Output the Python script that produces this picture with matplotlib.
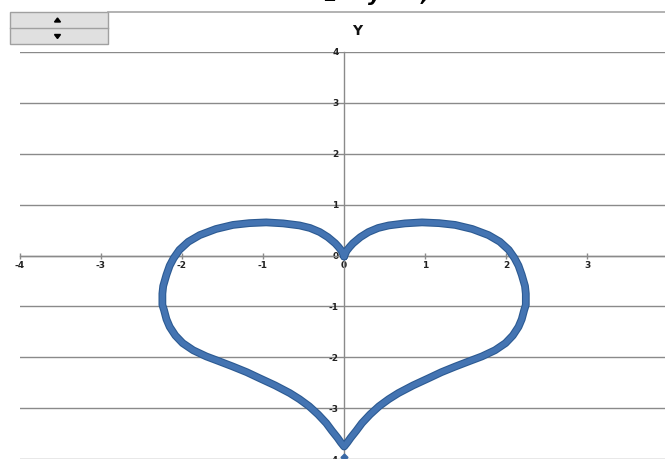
import matplotlib
matplotlib.use("Agg")
import matplotlib.pyplot as plt
import matplotlib.patheffects as pe
from matplotlib.patches import Rectangle, Polygon

# ---- data (full closed loop, starting at the top cusp) ----
heart_x = [0.00, 0.03, 0.07, 0.11, 0.20, 0.30, 0.42, 0.55, 0.75, 0.96, 1.17, 1.37, 1.58,
           1.78, 1.92, 2.03, 2.10, 2.15, 2.19, 2.23, 2.24, 2.24, 2.24, 2.22, 2.19, 2.15,
           2.08, 1.99, 1.86, 1.70, 1.55, 1.37, 1.20, 1.04, 0.85, 0.67, 0.55, 0.43, 0.32,
           0.22, 0.15, 0.08, 0.04, 0.00,
           -0.04, -0.08, -0.15, -0.22, -0.32, -0.43, -0.55, -0.67, -0.85, -1.04,
           -1.20, -1.37, -1.55, -1.70, -1.86, -1.99, -2.08, -2.15, -2.19, -2.22,
           -2.24, -2.24, -2.24, -2.23, -2.19, -2.15, -2.10, -2.03, -1.92, -1.78,
           -1.58, -1.37, -1.17, -0.96, -0.75, -0.55, -0.42, -0.30, -0.20, -0.11,
           -0.07, -0.03, 0.00]
heart_y = [-0.02, 0.09, 0.17, 0.24, 0.36, 0.46, 0.54, 0.59, 0.63, 0.65, 0.635, 0.60, 0.52,
           0.40, 0.27, 0.11, -0.05, -0.20, -0.38, -0.60, -0.75, -0.87, -0.97, -1.07, -1.25, -1.40,
           -1.57, -1.72, -1.86, -1.98, -2.07, -2.18, -2.29, -2.41, -2.55, -2.70, -2.82, -2.96, -3.12,
           -3.29, -3.44, -3.58, -3.67, -3.75,
           -3.67, -3.58, -3.44, -3.29, -3.12, -2.96, -2.82, -2.70, -2.55, -2.41,
           -2.29, -2.18, -2.07, -1.98, -1.86, -1.72, -1.57, -1.40, -1.25, -1.07,
           -0.97, -0.87, -0.75, -0.60, -0.38, -0.20, -0.05, 0.11, 0.27, 0.40,
           0.52, 0.60, 0.635, 0.65, 0.63, 0.59, 0.54, 0.46, 0.36, 0.24,
           0.17, 0.09, -0.02]
end_point_x = [0.0]
end_point_y = [-3.95]

x_ticks = [-4, -3, -2, -1, 0, 1, 2, 3]
y_ticks = [-4, -3, -2, -1, 0, 1, 2, 3, 4]
x_tick_labels = ["-4", "-3", "-2", "-1", "0", "1", "2", "3"]
y_tick_labels = ["-4", "-3", "-2", "-1", "0", "1", "2", "3", "4"]
axis_title = "Y"
title_fragments = ["z", "y", ","]

W, H = 665, 459
fig = plt.figure(figsize=(W / 100, H / 100), dpi=100)
fig.patch.set_facecolor("white")

ax = fig.add_axes([19.6 / W, -0.3 / H, 649.0 / W, 407.6 / H])
ax.set_xlim(-4, 4)
ax.set_ylim(-4, 4)
ax.patch.set_alpha(0)

grid_col = "#8a8a8a"
for s in ["top", "right"]:
    ax.spines[s].set_visible(False)
ax.spines["left"].set_position(("data", 0))
ax.spines["bottom"].set_position(("data", 0))
ax.spines["left"].set_color(grid_col)
ax.spines["bottom"].set_color(grid_col)
ax.spines["left"].set_linewidth(1.0)
ax.spines["bottom"].set_linewidth(1.0)

ax.set_xticks(x_ticks)
ax.set_xticklabels(x_tick_labels)
ax.set_yticks(y_ticks)
ax.set_yticklabels(y_tick_labels)
ax.yaxis.grid(True, color=grid_col, linewidth=1.0)
ax.xaxis.grid(False)
ax.set_axisbelow(True)
ax.tick_params(axis="x", direction="inout", length=4, width=1.0, color=grid_col,
               pad=2, labelsize=6.5, labelcolor="#222222")
ax.tick_params(axis="y", length=0, pad=4, labelsize=6.5, labelcolor="#222222")
for lab in ax.get_xticklabels() + ax.get_yticklabels():
    lab.set_fontweight("bold")

ax.plot(heart_x, heart_y, color="#4474b2", linewidth=4.0, solid_joinstyle="round",
        solid_capstyle="round", zorder=3,
        path_effects=[pe.Stroke(linewidth=5.6, foreground="#2c5a92"), pe.Normal()])
ax.plot(end_point_x, end_point_y, linestyle="none", marker="D", markersize=3.5,
        color="#3a69a6", clip_on=False, zorder=3)

# ---- overlay in pixel coordinates for the frame, spinner and titles ----
ov = fig.add_axes([0, 0, 1, 1])
ov.set_xlim(0, W)
ov.set_ylim(H, 0)
ov.axis("off")

ov.plot([108, W], [11.7, 11.7], color="#a6a6a6", linewidth=1.2)
ov.add_patch(Rectangle((10, 11.7), 98, 32.6, facecolor="#e0e0e0", edgecolor="#a0a0a0", linewidth=1.0))
ov.plot([10, 108], [28.3, 28.3], color="#a0a0a0", linewidth=1.0)
ov.add_patch(Polygon([[54.5, 22.0], [60.5, 22.0], [57.5, 18.0]], closed=True, color="black"))
ov.add_patch(Polygon([[54.5, 34.5], [60.5, 34.5], [57.5, 38.5]], closed=True, color="black"))

ov.text(357, 31, axis_title, ha="center", va="center", fontsize=10,
        fontweight="semibold", color="#111111")

for xpos, frag in zip([330, 375, 425], title_fragments):
    ov.text(xpos, 0.8, frag, ha="center", va="baseline", fontsize=15,
            fontweight="bold", fontstyle="italic", color="black")

fig.savefig("out.png", dpi=100, facecolor="white")
